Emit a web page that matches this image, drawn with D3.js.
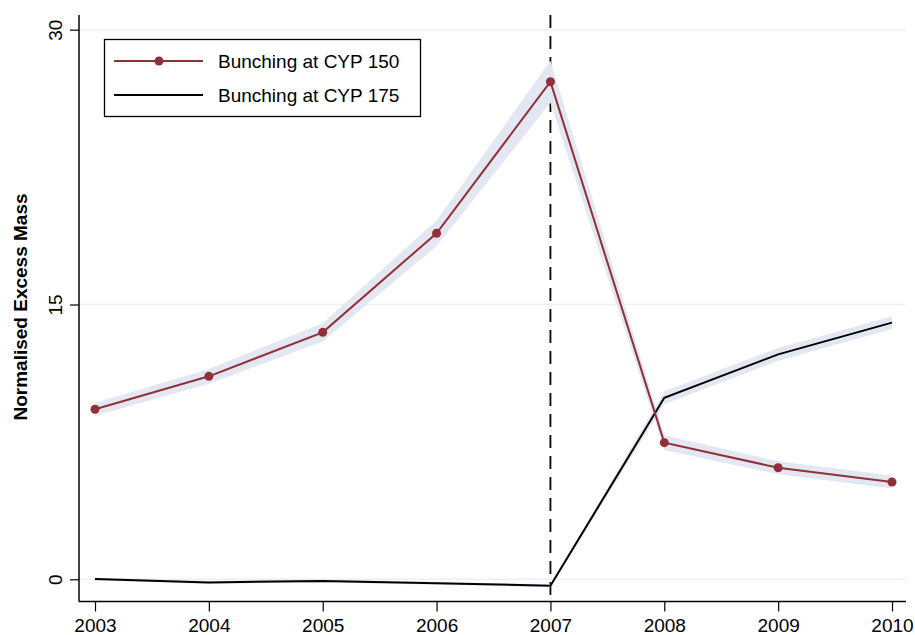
<!DOCTYPE html>
<html><head><meta charset="utf-8">
<script src="https://cdn.jsdelivr.net/npm/d3@7"></script>
<style>body{margin:0;background:#fff}svg{display:block}text{font-family:"Liberation Sans",Arial,Helvetica,sans-serif}</style>
</head><body><svg id="c" width="915" height="635"></svg>
<script>
const years = [2003, 2004, 2005, 2006, 2007, 2008, 2009, 2010];
const cyp150 = [9.28, 11.08, 13.48, 18.89, 27.16, 7.46, 6.09, 5.31];
const cyp150ci = [0.35, 0.4, 0.5, 0.7, 1.15, 0.4, 0.35, 0.35];
const cyp175 = [0.02, -0.17, -0.09, -0.22, -0.35, 9.91, 12.28, 14.01];
const cyp175ci = [0.08, 0.08, 0.08, 0.08, 0.08, 0.35, 0.35, 0.35];
const yTicks = [0, 15, 30];
const seriesNames = ["Bunching at CYP 150", "Bunching at CYP 175"];
const treatYear = 2007;

(function () {
const svg = d3.select("#c");
const x = d3.scaleLinear().domain([2003, 2010]).range([95, 892]);
const y = d3.scaleLinear().domain([0, 30]).range([579.3, 29.7]);
const pL = 79, pR = 906, pT = 15, pB = 601.5;
const fs = 19;

// grid
svg.append("g").selectAll("line").data(yTicks).join("line")
  .attr("x1", pL).attr("x2", pR)
  .attr("y1", d => y(d)).attr("y2", d => y(d))
  .attr("stroke", "#eaf2f3").attr("stroke-width", 1.5);

// vertical dashed line (drawn beneath the bands)
svg.append("line").attr("x1", x(treatYear)).attr("x2", x(treatYear))
  .attr("y1", pT).attr("y2", pB)
  .attr("stroke", "#000").attr("stroke-width", 1.8).attr("stroke-dasharray", "13,8");

const bandColor = "#e3e7f1";
function band(vals, ci) {
  const area = d3.area().x((d, i) => x(years[i]))
    .y0((d, i) => y(d - ci[i])).y1((d, i) => y(d + ci[i]));
  svg.append("path").attr("d", area(vals)).attr("fill", bandColor);
}
band(cyp150, cyp150ci);
band(cyp175, cyp175ci);

const line = d3.line().x((d, i) => x(years[i])).y(d => y(d));
const red = "#903038";
svg.append("path").attr("d", line(cyp175)).attr("fill", "none").attr("stroke", "#000").attr("stroke-width", 2);
svg.append("path").attr("d", line(cyp150)).attr("fill", "none").attr("stroke", red).attr("stroke-width", 2);
svg.append("g").selectAll("circle").data(cyp150).join("circle")
  .attr("cx", (d, i) => x(years[i])).attr("cy", d => y(d)).attr("r", 4.5).attr("fill", red);

// axes
const xAxis = svg.append("g").attr("transform", `translate(0,${pB})`)
  .call(d3.axisBottom(x).tickValues(years).tickFormat(d3.format("d")).tickSize(10).tickSizeOuter(0));
xAxis.select(".domain").remove();
xAxis.append("line").attr("x1", pL).attr("x2", pR).attr("stroke", "#000").attr("stroke-width", 1.5);
xAxis.selectAll(".tick line").attr("stroke-width", 1.2);
xAxis.selectAll(".tick text").attr("font-size", fs).attr("fill", "#000")
  .attr("y", 30.5).attr("dy", null)
  .attr("font-family", "Liberation Sans, Arial, sans-serif");

const yAxis = svg.append("g").attr("transform", `translate(${pL},0)`)
  .call(d3.axisLeft(y).tickValues(yTicks).tickSize(9).tickSizeOuter(0));
yAxis.select(".domain").remove();
yAxis.append("line").attr("y1", pT).attr("y2", pB).attr("stroke", "#000").attr("stroke-width", 1.5);
yAxis.selectAll(".tick line").attr("stroke-width", 1.2);
yAxis.selectAll(".tick text").attr("font-size", fs).attr("fill", "#000")
  .attr("x", null).attr("dy", null)
  .attr("transform", "translate(-17,0) rotate(-90)")
  .attr("text-anchor", "middle").attr("y", 0)
  .attr("font-family", "Liberation Sans, Arial, sans-serif");

svg.append("text").attr("transform", "translate(27,307) rotate(-90)")
  .attr("text-anchor", "middle").attr("font-size", fs).attr("font-weight", "bold")
  .text("Normalised Excess Mass");

// legend
const lg = svg.append("g");
lg.append("rect").attr("x", 104.5).attr("y", 39.5).attr("width", 316).attr("height", 77)
  .attr("fill", "#fff").attr("stroke", "#000").attr("stroke-width", 1.3);
const lgY = [61, 95];
lg.append("line").attr("x1", 114).attr("x2", 203).attr("y1", lgY[0]).attr("y2", lgY[0]).attr("stroke", red).attr("stroke-width", 2);
lg.append("circle").attr("cx", 159).attr("cy", lgY[0]).attr("r", 4.5).attr("fill", red);
lg.append("line").attr("x1", 114).attr("x2", 203).attr("y1", lgY[1]).attr("y2", lgY[1]).attr("stroke", "#000").attr("stroke-width", 2);
lg.selectAll("text").data(seriesNames).join("text")
  .attr("x", 218).attr("y", (d, i) => lgY[i] + 7).attr("font-size", fs).attr("fill", "#000").text(d => d);
})();
</script></body></html>
